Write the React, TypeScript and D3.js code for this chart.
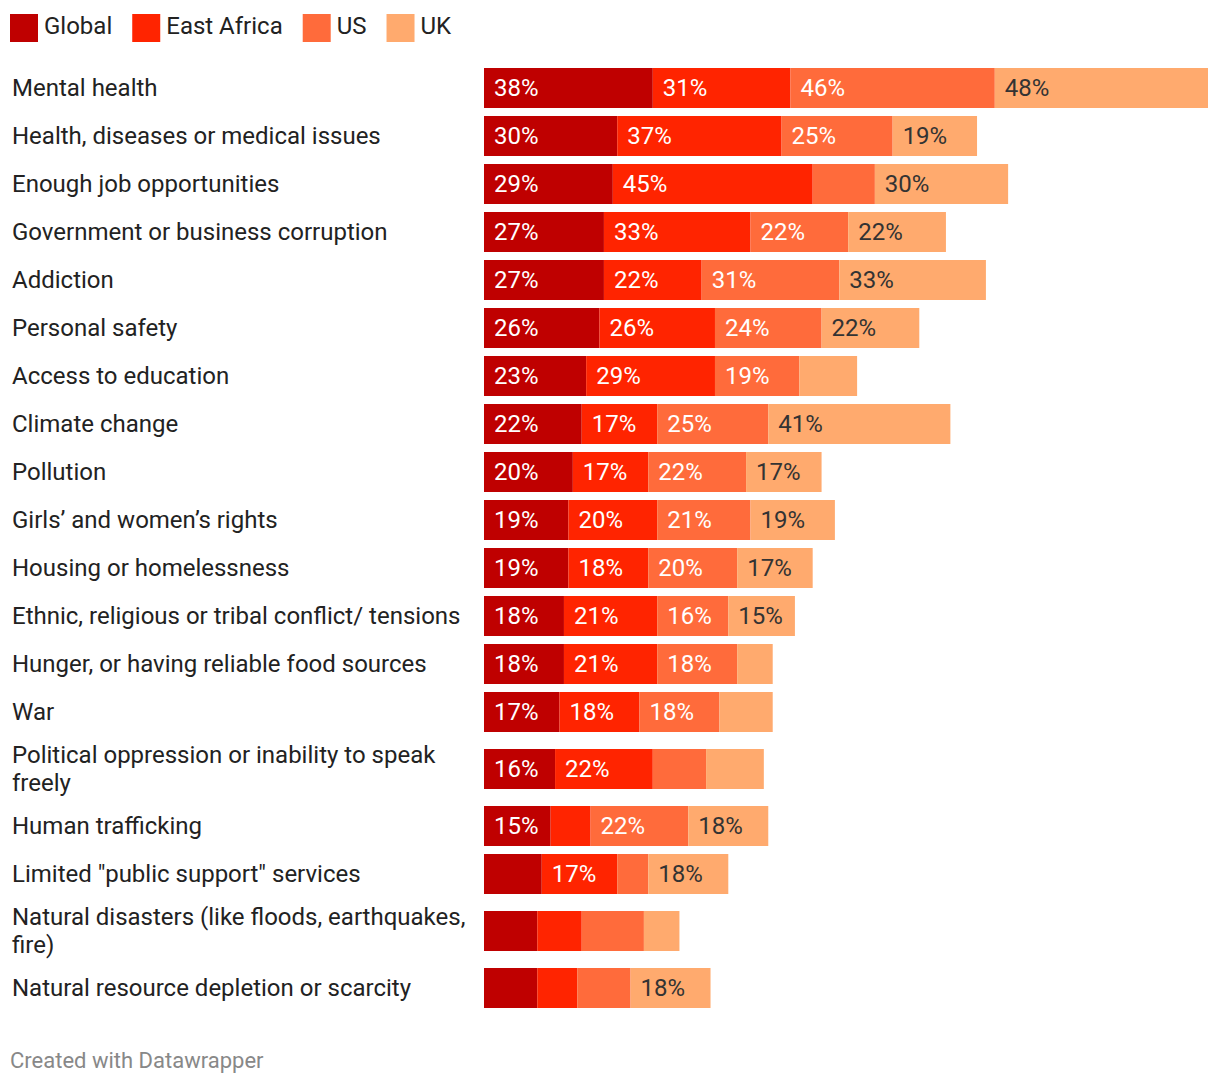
import React from "react";
import * as d3 from "d3";

const categories = [
  "Mental health",
  "Health, diseases or medical issues",
  "Enough job opportunities",
  "Government or business corruption",
  "Addiction",
  "Personal safety",
  "Access to education",
  "Climate change",
  "Pollution",
  "Girls’ and women’s rights",
  "Housing or homelessness",
  "Ethnic, religious or tribal conflict/ tensions",
  "Hunger, or having reliable food sources",
  "War",
  "Political oppression or inability to speak\nfreely",
  "Human trafficking",
  "Limited \"public support\" services",
  "Natural disasters (like floods, earthquakes,\nfire)",
  "Natural resource depletion or scarcity",
];

const seriesNames = ["Global", "East Africa", "US", "UK"];
const global = [38, 30, 29, 27, 27, 26, 23, 22, 20, 19, 19, 18, 18, 17, 16, 15, 13, 12, 12];
const eastAfrica = [31, 37, 45, 33, 22, 26, 29, 17, 17, 20, 18, 21, 21, 18, 22, 9, 17, 10, 9];
const us = [46, 25, 14, 22, 31, 24, 19, 25, 22, 21, 20, 16, 18, 18, 12, 22, 7, 14, 12];
const uk = [48, 19, 30, 22, 33, 22, 13, 41, 17, 19, 17, 15, 8, 12, 13, 18, 18, 8, 18];

const colors = ["#bf0000", "#ff2400", "#ff6b3b", "#ffaa6e"];
const textColors = ["#ffffff", "#ffffff", "#ffffff", "#333333"];

const FONT = "Roboto, 'Noto Sans', sans-serif";
const FS = 24;

function measure(text: string, size: number): number {
  const c = document.createElement("canvas").getContext("2d");
  if (!c) return text.length * size * 0.5;
  c.font = `${size}px Roboto`;
  return c.measureText(text).width;
}

export default function App() {
  const W = 1220;
  const H = 1084;
  const x = d3.scaleLinear().domain([0, 163]).range([484, 1208]);
  const series = [global, eastAfrica, us, uk];

  const rows: { label: string[]; top: number; h: number; vals: number[] }[] = [];
  let y = 68;
  categories.forEach((c, i) => {
    const lines = c.split("\n");
    const h = lines.length > 1 ? 58 : 40;
    rows.push({ label: lines, top: y, h, vals: series.map((s) => s[i]) });
    y += h + 8;
  });

  let lx = 10;
  const legend = seriesNames.map((n, i) => {
    const item = { n, x: lx, c: colors[i] };
    lx += 34 + measure(n, FS) + 20;
    return item;
  });

  return (
    <svg width={W} height={H} style={{ position: "absolute", left: 0, top: 0, background: "#fff" }} fontFamily={FONT}>
      <rect width={W} height={H} fill="#fff" />
      {legend.map((l) => (
        <g key={l.n}>
          <rect x={l.x} y={14} width={28} height={28} fill={l.c} />
          <text x={l.x + 34} y={26} dy="0.35em" fontSize={FS} fill="#222">
            {l.n}
          </text>
        </g>
      ))}
      {rows.map((r, i) => {
        const cy = r.top + r.h / 2;
        let acc = 0;
        return (
          <g key={i}>
            {r.label.map((ln, k) => (
              <text
                key={k}
                x={12}
                y={cy + (k - (r.label.length - 1) / 2) * 28}
                dy="0.35em"
                fontSize={FS}
                fill="#222"
              >
                {ln}
              </text>
            ))}
            {r.vals.map((v, j) => {
              const x0 = x(acc);
              acc += v;
              const x1 = x(acc);
              return (
                <g key={j}>
                  <rect x={x0} y={cy - 20} width={x1 - x0} height={40} fill={colors[j]} />
                  {v >= 15 && (
                    <text x={x0 + 10} y={cy} dy="0.35em" fontSize={FS} fill={textColors[j]}>
                      {v}%
                    </text>
                  )}
                </g>
              );
            })}
          </g>
        );
      })}
      <text x={10} y={1060} dy="0.35em" fontSize={22} fill="#888">
        Created with Datawrapper
      </text>
    </svg>
  );
}
